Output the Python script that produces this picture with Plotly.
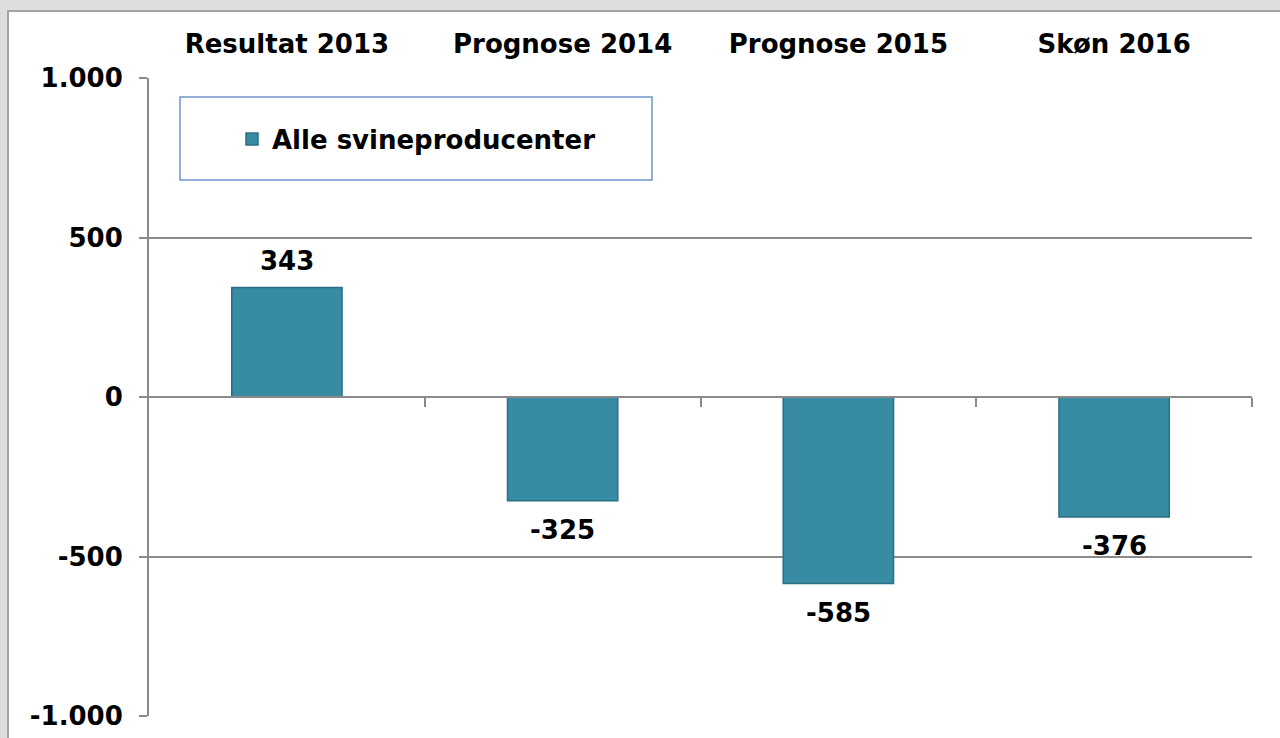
import plotly.graph_objects as go

categories = ["Resultat 2013", "Prognose 2014", "Prognose 2015", "Skøn 2016"]
values = [343, -325, -585, -376]
value_labels = ["343", "-325", "-585", "-376"]
series_name = "Alle svineproducenter"
y_tickvals = [-1000, -500, 0, 500, 1000]
y_ticktext = ["-1.000", "-500", "0", "500", "1.000"]

FONT = "DejaVu Sans"
BAR_COLOR = "#378ba3"
GRID = "#8a8a8a"

fig = go.Figure()
fig.add_trace(go.Bar(
    x=list(range(len(categories))), y=values, name=series_name,
    marker=dict(color=BAR_COLOR, line=dict(color="#2b6f83", width=1.5)),
    width=0.4, showlegend=True,
))
# invisible trace on top axis for category labels
fig.add_trace(go.Scatter(x=list(range(len(categories))), y=[0]*len(categories),
                         xaxis="x2", mode="markers", marker=dict(opacity=0),
                         showlegend=False, hoverinfo="skip"))

for i, (v, t) in enumerate(zip(values, value_labels)):
    fig.add_annotation(x=i, y=v, text=t, showarrow=False, xref="x", yref="y",
                       yshift=27 if v >= 0 else -29, yanchor="middle",
                       font=dict(family=FONT, size=26, color="black", weight="bold"))

W, H = 1280, 738
L, R, T, B = 149, 28, 78, 22
pw, ph = W - L - R, H - T - B

def px(x):
    return (x - L) / pw

def py(y):
    return (H - B - y) / ph

shapes = [
    dict(type="rect", xref="paper", yref="paper", x0=px(8), x1=px(1300), y0=py(760), y1=py(11),
         fillcolor="white", line=dict(color="#a4a4a4", width=2), layer="below"),
    dict(type="rect", xref="paper", yref="paper", x0=px(180), x1=px(652), y0=py(180), y1=py(97),
         fillcolor="white", line=dict(color="#6f96c9", width=1.5), layer="below"),
]

fig.update_layout(
    width=W, height=H,
    margin=dict(l=L, r=R, t=T, b=B, autoexpand=False),
    paper_bgcolor="#dedede", plot_bgcolor="rgba(0,0,0,0)",
    font=dict(family=FONT, size=26, color="black"),
    shapes=shapes,
    showlegend=True,
    legend=dict(x=px(232), y=py(139), xanchor="left", yanchor="middle",
                bgcolor="rgba(0,0,0,0)", borderwidth=0,
                font=dict(family=FONT, size=26, color="black", weight="bold")),
    xaxis=dict(range=[-0.5, 3.5], tickvals=[0.5, 1.5, 2.5, 3.5], ticktext=["", "", "", ""],
               anchor="free", position=0.5, showline=True, linecolor=GRID, linewidth=2,
               ticks="outside", ticklen=9, tickwidth=2, tickcolor=GRID,
               showgrid=False, zeroline=False, fixedrange=True, automargin=False),
    xaxis2=dict(range=[-0.5, 3.5], overlaying="x", side="top", anchor="y",
                tickvals=list(range(len(categories))), ticktext=categories,
                showline=False, showgrid=False, zeroline=False, ticks="",
                ticklabelstandoff=19, automargin=False,
                tickfont=dict(family=FONT, size=26, color="black", weight="bold")),
    yaxis=dict(range=[-1000, 1000], tickvals=y_tickvals, ticktext=y_ticktext,
               showgrid=True, gridcolor=GRID, gridwidth=2, zeroline=False,
               showline=True, linecolor=GRID, linewidth=2,
               ticks="outside", ticklen=8, tickwidth=2, tickcolor=GRID,
               ticklabelstandoff=11, automargin=False,
               tickfont=dict(family=FONT, size=26, color="black", weight="bold")),
    bargap=0.6,
)

fig.write_html("out.html", config={"displayModeBar": False},
               post_script="document.body.style.margin='0';document.body.style.background='#dedede';")
